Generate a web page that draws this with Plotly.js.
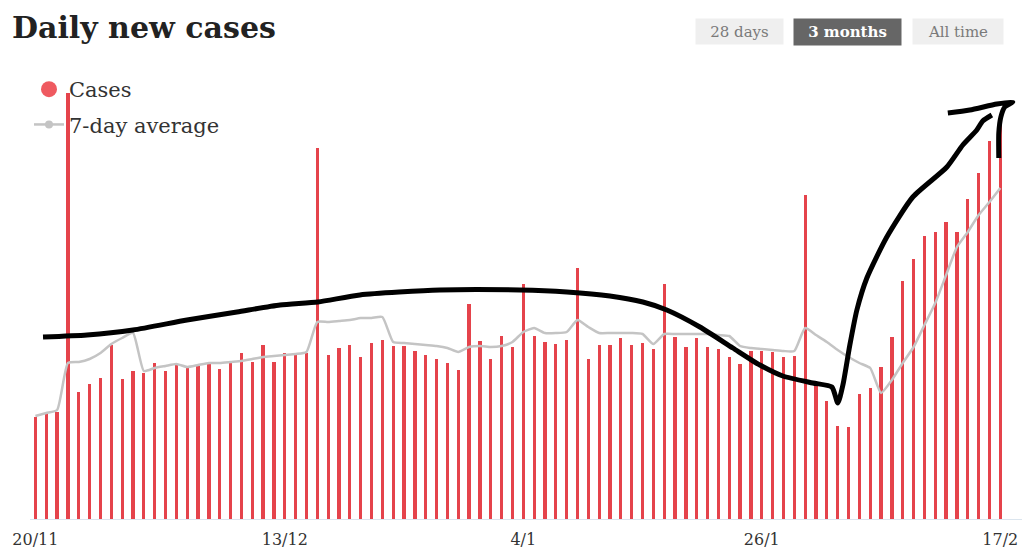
<!DOCTYPE html>
<html>
<head>
<meta charset="utf-8">
<script src="https://cdn.plot.ly/plotly-3.0.1.min.js"></script>
<style>
  html, body { margin: 0; padding: 0; background: #fff; }
  #chart { width: 1026px; height: 549px; }
</style>
</head>
<body>
<div id="chart"></div>
<script>
// Daily new cases, 20/11 to 17/2 (values in chart units)
const cases = [
  102,105,107,426,127,135,141,174,140,148,
  146,156,148,155,151,153,156,150,157,166,
  157,174,157,166,164,166,371,164,171,174,
  162,176,179,173,173,168,164,160,156,149,
  215,178,160,183,172,235,183,177,175,179,
  251,160,174,174,181,174,176,170,235,182,
  172,181,172,170,162,155,168,168,167,162,
  163,324,134,118,93,92,125,131,152,182,
  238,260,283,287,297,287,320,346,378,398
];
const avg7 = [
  103,106,109,156,157,160,166,175,181,186,
  148,151,153,155,152,154,156,156,157,158,
  160,162,163,164,165,167,197,197,198,199,
  201,201,202,177,176,175,174,173,171,167,
  172,173,172,173,177,187,191,186,186,187,
  199,192,186,186,186,186,185,175,185,185,
  185,185,185,184,183,173,171,170,169,168,
  168,191,184,177,169,162,156,151,126,139,
  156,172,194,216,244,272,287,304,317,331
];
const tickDays = [0, 23, 45, 67, 89];
const tickLabels = ["20/11", "13/12", "4/1", "26/1", "17/2"];

// Hand-drawn trend stroke (day index, value)
const strokeX = [0.70,4.76,9.00,13.98,18.59,22.56,26.06,29.93,37.31,44.69,49.02,52.99,56.03,58.24,61.29,64.33,66.82,68.94,71.71,73.46,74.01,74.48,75.12,75.77,76.69,78.53,80.93,84.07,85.54,86.83,87.38,88.22];
const strokeY = [182,184,189,199,207,214,217,224,229,229,227,223,217,209,192,171,154,143,136,132,116,134,174,209,241,282,322,352,374,389,398,404];
const headX = [84.16,86.18,88.68,90.15,89.41,89.05,88.86,88.86];
const headY = [406,409,415,417,412,402,386,361];

const days = cases.map((v, i) => i);
const SERIF = "DejaVu Serif, Liberation Serif, serif";

const L = 30, R = 4, T = 0, B = 30, W = 1026, H = 549;
const plotW = W - L - R, plotH = H - T - B;
const px = v => (v - L) / plotW;
const py = v => (H - B - v) / plotH;

const traces = [
  { type: 'bar', x: days, y: cases, width: 0.3, marker: { color: '#e5434b' },
    showlegend: false, hoverinfo: 'skip' },
  { type: 'scatter', mode: 'lines', x: days, y: avg7,
    line: { color: '#c4c4c4', width: 2.5, shape: 'spline', smoothing: 0.5 },
    showlegend: false, hoverinfo: 'skip' },
  { type: 'scatter', mode: 'lines', x: strokeX, y: strokeY,
    line: { color: '#000', width: 5, shape: 'spline', smoothing: 0.6 },
    showlegend: false, hoverinfo: 'skip' },
  { type: 'scatter', mode: 'lines', x: headX, y: headY,
    line: { color: '#000', width: 5, shape: 'spline', smoothing: 0.6 },
    showlegend: false, hoverinfo: 'skip' },
  // legend entries
  { type: 'scatter', mode: 'markers', x: [null], y: [null], name: 'Cases',
    legendgroup: 'a', marker: { color: '#ef5a60', size: 17, symbol: 'circle' } },
  { type: 'scatter', mode: 'lines+markers', x: [null], y: [null], name: '7-day average',
    legendgroup: 'b', line: { color: '#c4c4c4', width: 2.5 },
    marker: { color: '#c4c4c4', size: 8 } }
];

function button(text, left, top, w, h, bg, color) {
  return { xref: 'paper', yref: 'paper', x: px(left), y: py(top),
    xanchor: 'left', yanchor: 'top', width: w, height: h, borderpad: 0,
    bgcolor: bg, text: text, showarrow: false, align: 'center', valign: 'middle',
    font: { family: SERIF, size: 15, color: color } };
}

const layout = {
  width: W, height: H,
  margin: { l: L, r: R, t: T, b: B, pad: 0 },
  paper_bgcolor: '#fff', plot_bgcolor: '#fff',
  title: { text: '<b>Daily new cases</b>', x: 12 / W, xanchor: 'left', xref: 'container',
    y: 1 - 27 / H, yanchor: 'middle', yref: 'container',
    font: { family: SERIF, size: 30, color: '#222' } },
  xaxis: { range: [-0.5, 91], tickvals: tickDays, ticktext: tickLabels,
    showgrid: false, zeroline: false, showline: true, linecolor: '#dbe5ee', linewidth: 1,
    ticks: '', ticklabelstandoff: 6,
    tickfont: { family: SERIF, size: 16, color: '#333' }, fixedrange: true },
  yaxis: { range: [0, plotH], showgrid: false, zeroline: false, showticklabels: false,
    showline: false, fixedrange: true },
  bargap: 0,
  showlegend: true,
  legend: { x: px(29), y: py(69), xanchor: 'left', yanchor: 'top',
    bgcolor: 'rgba(0,0,0,0)', traceorder: 'grouped', tracegroupgap: 5,
    font: { family: SERIF, size: 21, color: '#333' } },
  annotations: [
    button('28 days', 695, 18, 87, 25, '#efefef', '#7a7a7a'),
    button('<b>3 months</b>', 793, 18, 107, 26, '#666666', '#fff'),
    button('All time', 912, 18, 90, 25, '#efefef', '#7a7a7a')
  ]
};

Plotly.newPlot('chart', traces, layout, { displayModeBar: false, staticPlot: true });
</script>
</body>
</html>
